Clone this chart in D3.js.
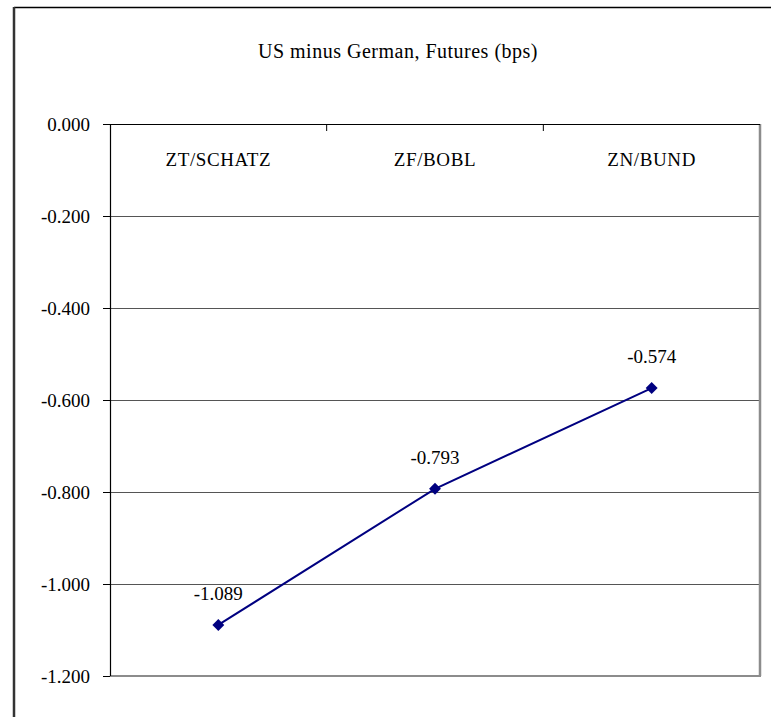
<!DOCTYPE html>
<html>
<meta charset="utf-8">
<title>US minus German, Futures</title>
<head>
  <script src="https://cdnjs.cloudflare.com/ajax/libs/d3/7.8.5/d3.min.js"></script>
  <style>
    body { margin: 0; background: #fff; }
    text { font-family: "Liberation Serif", "DejaVu Serif", serif; fill: #000; }
  </style>
</head>
<body>
<script>
  var categories = ["ZT/SCHATZ", "ZF/BOBL", "ZN/BUND"];
  var values = [-1.089, -0.793, -0.574];
  var yTicks = [0, -0.2, -0.4, -0.6, -0.8, -1.0, -1.2];
  var title = "US minus German, Futures (bps)";

  var W = 771, H = 717;
  var pLeft = 110, pRight = 760, pTop = 124, pBottom = 676;

  // plain hyphen as minus sign, like the original
  var fmt = d3.formatLocale({ decimal: ".", thousands: ",", grouping: [3], currency: ["", ""], minus: "-" })
      .format(".3f");

  var svg = d3.select("body").append("svg")
      .attr("width", W)
      .attr("height", H);

  // outer frame (only top + left fall inside the picture)
  svg.append("line").attr("x1", 14).attr("x2", W).attr("y1", 7.5).attr("y2", 7.5)
      .attr("stroke", "#000").attr("stroke-width", 1.5);
  svg.append("line").attr("x1", 14).attr("x2", 14).attr("y1", 7).attr("y2", H)
      .attr("stroke", "#333").attr("stroke-width", 2.5);

  var x = d3.scaleBand().domain(categories).range([pLeft, pRight]);
  var y = d3.scaleLinear().domain([-1.2, 0]).range([pBottom, pTop]);

  // gridlines
  svg.append("g").selectAll("line")
      .data(yTicks.filter(function(d) { return d !== 0 && d !== -1.2; }))
      .enter().append("line")
      .attr("x1", pLeft).attr("x2", pRight)
      .attr("y1", function(d) { return Math.round(y(d)) + 0.5; })
      .attr("y2", function(d) { return Math.round(y(d)) + 0.5; })
      .attr("stroke", "#555").attr("stroke-width", 1);

  // plot area border: right + bottom grey
  svg.append("line").attr("x1", pRight).attr("x2", pRight).attr("y1", pTop).attr("y2", pBottom)
      .attr("stroke", "#8c8c8c").attr("stroke-width", 2.5);
  svg.append("line").attr("x1", pLeft).attr("x2", pRight + 1).attr("y1", pBottom).attr("y2", pBottom)
      .attr("stroke", "#8c8c8c").attr("stroke-width", 2);

  // y axis
  var yAxis = svg.append("g")
      .attr("transform", "translate(" + pLeft + ",0)")
      .call(d3.axisLeft(y).tickValues(yTicks).tickSize(7).tickPadding(13).tickFormat(fmt));
  yAxis.select(".domain").remove();
  yAxis.selectAll(".tick line").attr("stroke", "#000");
  yAxis.selectAll("text")
      .style("font-size", "19px")
      .style("font-family", "'Liberation Serif', serif")
      .attr("fill", "#000");
  svg.append("line").attr("x1", pLeft + 0.5).attr("x2", pLeft + 0.5).attr("y1", pTop).attr("y2", pBottom)
      .attr("stroke", "#000").attr("stroke-width", 1.2);

  // category axis along y = 0 (top), ticks pointing down between categories
  svg.append("line").attr("x1", pLeft).attr("x2", pRight).attr("y1", y(0) + 0.5).attr("y2", y(0) + 0.5)
      .attr("stroke", "#000").attr("stroke-width", 1.2);
  var bounds = categories.slice(1).map(function(c) { return x(c); });
  svg.append("g").selectAll("line")
      .data(bounds)
      .enter().append("line")
      .attr("x1", function(d) { return d; }).attr("x2", function(d) { return d; })
      .attr("y1", y(0)).attr("y2", y(0) + 7)
      .attr("stroke", "#000");
  svg.append("g").selectAll("text")
      .data(categories)
      .enter().append("text")
      .attr("x", function(d) { return x(d) + x.bandwidth() / 2; })
      .attr("y", 166)
      .attr("text-anchor", "middle")
      .style("font-size", "19px")
      .style("letter-spacing", "0.6px")
      .text(function(d) { return d; });

  // title
  svg.append("text")
      .attr("x", 398).attr("y", 58)
      .attr("text-anchor", "middle")
      .style("font-size", "20px")
      .style("letter-spacing", "0.5px")
      .text(title);

  // series
  var pts = categories.map(function(c, i) { return { c: c, v: values[i] }; });
  var line = d3.line()
      .x(function(d) { return x(d.c) + x.bandwidth() / 2; })
      .y(function(d) { return y(d.v); });
  svg.append("path").datum(pts)
      .attr("d", line)
      .attr("fill", "none")
      .attr("stroke", "#000080")
      .attr("stroke-width", 2);
  svg.append("g").selectAll("path")
      .data(pts)
      .enter().append("path")
      .attr("transform", function(d) {
        return "translate(" + (x(d.c) + x.bandwidth() / 2) + "," + y(d.v) + ")";
      })
      .attr("d", d3.symbol().type(d3.symbolDiamond2).size(90))
      .attr("fill", "#000080");
  svg.append("g").selectAll("text")
      .data(pts)
      .enter().append("text")
      .attr("x", function(d) { return x(d.c) + x.bandwidth() / 2; })
      .attr("y", function(d) { return y(d.v) - 25; })
      .attr("text-anchor", "middle")
      .style("font-size", "19px")
      .text(function(d) { return fmt(d.v); });
</script>
</body>
</html>
